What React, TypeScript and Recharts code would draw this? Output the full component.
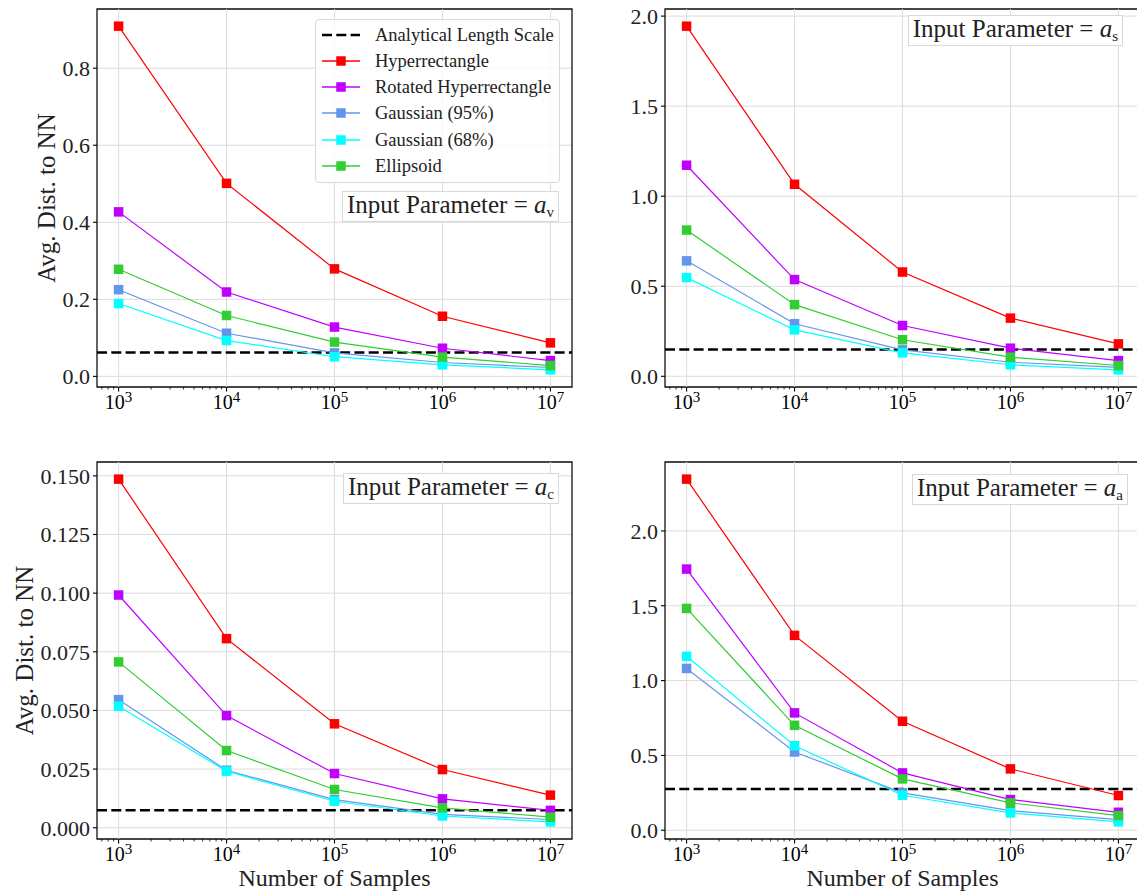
import { LineChart, Line, XAxis, YAxis, CartesianGrid, ReferenceLine, ReferenceArea, Legend, Label } from 'recharts';

const FONT = '"Liberation Serif", "Times New Roman", serif';

// number of samples (x) and tick labels
const samples = [1e3, 1e4, 1e5, 1e6, 1e7];
const majorTicks = [1e3, 1e4, 1e5, 1e6, 1e7];
const minorMantissas = [2, 3, 4, 5, 6, 7, 8, 9];

const seriesKeys = ['hyper', 'rotated', 'g95', 'g68', 'ellipsoid'];
const seriesNames = ['Hyperrectangle', 'Rotated Hyperrectangle', 'Gaussian (95%)', 'Gaussian (68%)', 'Ellipsoid'];
const seriesColors = ['#ff0000', '#bf00ff', '#6495ed', '#00ffff', '#32cd32'];
const refName = 'Analytical Length Scale';

// a_v
const avHyper = [0.909, 0.501, 0.279, 0.156, 0.087];
const avRotated = [0.427, 0.219, 0.128, 0.073, 0.041];
const avG95 = [0.225, 0.112, 0.061, 0.036, 0.023];
const avG68 = [0.189, 0.093, 0.051, 0.030, 0.017];
const avEllipsoid = [0.278, 0.158, 0.089, 0.050, 0.028];
const avRef = 0.062;
const avTicks = [0, 0.2, 0.4, 0.6, 0.8];

// a_s
const asHyper = [1.944, 1.066, 0.579, 0.323, 0.180];
const asRotated = [1.172, 0.537, 0.282, 0.156, 0.087];
const asG95 = [0.641, 0.292, 0.147, 0.078, 0.050];
const asG68 = [0.548, 0.258, 0.130, 0.064, 0.036];
const asEllipsoid = [0.812, 0.398, 0.203, 0.106, 0.060];
const asRef = 0.149;
const asTicks = [0, 0.5, 1.0, 1.5, 2.0];

// a_c
const acHyper = [0.1486, 0.0806, 0.0443, 0.0248, 0.0139];
const acRotated = [0.0992, 0.0478, 0.0231, 0.0123, 0.0074];
const acG95 = [0.0546, 0.0245, 0.0120, 0.0057, 0.0035];
const acG68 = [0.0518, 0.0241, 0.0113, 0.0050, 0.0025];
const acEllipsoid = [0.0707, 0.0329, 0.0163, 0.0085, 0.0045];
const acRef = 0.0075;
const acTicks = [0, 0.025, 0.05, 0.075, 0.1, 0.125, 0.15];

// a_a
const aaHyper = [2.346, 1.302, 0.728, 0.410, 0.232];
const aaRotated = [1.745, 0.784, 0.383, 0.205, 0.120];
const aaG95 = [1.081, 0.523, 0.250, 0.131, 0.071];
const aaG68 = [1.162, 0.565, 0.234, 0.116, 0.056];
const aaEllipsoid = [1.482, 0.701, 0.343, 0.183, 0.098];
const aaRef = 0.276;
const aaTicks = [0, 0.5, 1.0, 1.5, 2.0];

const buildRows = (cols: number[][]) =>
  samples.map((n, i) => {
    const row: any = { n };
    seriesKeys.forEach((k, j) => (row[k] = cols[j][i]));
    return row;
  });

// matplotlib-style 5% margins
const padDomain = (cols: number[][]): [number, number] => {
  const all = cols.flat();
  const lo = Math.min(...all);
  const hi = Math.max(...all);
  const m = (hi - lo) * 0.05;
  return [lo - m, hi + m];
};
const xLogLo = Math.log10(samples[0]);
const xLogHi = Math.log10(samples[samples.length - 1]);
const xPad = (xLogHi - xLogLo) * 0.05;
const xDomain: [number, number] = [Math.pow(10, xLogLo - xPad), Math.pow(10, xLogHi + xPad)];

const minorTicks: number[] = [];
[100, 1e3, 1e4, 1e5, 1e6, 1e7].forEach((d) =>
  minorMantissas.forEach((m) => {
    const v = m * d;
    if (v > xDomain[0] && v < xDomain[1]) minorTicks.push(v);
  })
);
const allXTicks = [...minorTicks, ...majorTicks].sort((a, b) => a - b);

const panels = [
  { cols: [avHyper, avRotated, avG95, avG68, avEllipsoid], ref: avRef, ticks: avTicks, dec: 1, sub: 'v' },
  { cols: [asHyper, asRotated, asG95, asG68, asEllipsoid], ref: asRef, ticks: asTicks, dec: 1, sub: 's' },
  { cols: [acHyper, acRotated, acG95, acG68, acEllipsoid], ref: acRef, ticks: acTicks, dec: 3, sub: 'c' },
  { cols: [aaHyper, aaRotated, aaG95, aaG68, aaEllipsoid], ref: aaRef, ticks: aaTicks, dec: 1, sub: 'a' },
];

// placement of each panel on the page
const layout = [
  { left: 0, top: 0, w: 580, h: 440, mTop: 9, mRight: 8, yW: 97, xH: 53, yLabelX: 46.5, xLabel: false, legend: true, boxRight: 578, boxTop: 191 },
  { left: 580, top: 0, w: 580, h: 440, mTop: 9, mRight: 20, yW: 85, xH: 53, yLabelX: 0, xLabel: false, legend: false, boxRight: 14, boxTop: 15 },
  { left: 0, top: 440, w: 580, h: 454, mTop: 22, mRight: 8, yW: 97, xH: 55, yLabelX: 24, xLabel: true, legend: false, boxRight: 578, boxTop: 473 },
  { left: 580, top: 440, w: 580, h: 454, mTop: 22, mRight: 20, yW: 85, xH: 55, yLabelX: 0, xLabel: true, legend: false, boxRight: 9, boxTop: 474 },
];

function XTick(props: any) {
  const { x, y, payload } = props;
  const e = Math.log10(payload.value);
  const major = Math.abs(e - Math.round(e)) < 1e-6;
  if (!major) return <line x1={x} x2={x} y1={y} y2={y + 2.5} stroke="#000" strokeWidth={0.8} />;
  return (
    <g>
      <line x1={x} x2={x} y1={y} y2={y + 4.5} stroke="#000" strokeWidth={1.1} />
      <text x={x} y={y + 22} textAnchor="middle" fontFamily={FONT} fontSize={20} fill="#000">
        10<tspan dy={-7} fontSize={15}>{Math.round(e)}</tspan>
      </text>
    </g>
  );
}

function LegendBox() {
  const rows = [{ name: refName, color: '#000', dashed: true }, ...seriesNames.map((n, i) => ({ name: n, color: seriesColors[i], dashed: false }))];
  return (
    <div style={{ width: 245, height: 164, boxSizing: 'border-box', border: '1px solid #d8d8d8', borderRadius: 4, background: 'rgba(255,255,255,0.8)', position: 'relative', fontFamily: FONT }}>
      {rows.map((r, i) => (
        <div key={r.name} style={{ position: 'absolute', left: 6, top: 14.5 + i * 26.3 - 12, height: 24, display: 'flex', alignItems: 'center', whiteSpace: 'nowrap' }}>
          <svg width={38} height={24} style={{ display: 'block' }}>
            {r.dashed ? (
              <line x1={0} x2={38} y1={12} y2={12} stroke="#000" strokeWidth={2.5} strokeDasharray="10 4.3" />
            ) : (
              <g>
                <line x1={0} x2={38} y1={12} y2={12} stroke={r.color} strokeWidth={1.5} />
                <rect x={14.25} y={7.25} width={9.5} height={9.5} fill={r.color} />
              </g>
            )}
          </svg>
          <span style={{ marginLeft: 15, fontSize: 18.5, color: '#222', lineHeight: '24px' }}>{r.name}</span>
        </div>
      ))}
    </div>
  );
}

function Panel({ p, L }: { p: any; L: any }) {
  const rows = buildRows(p.cols);
  const yDomain = padDomain(p.cols);
  return (
    <div style={{ position: 'absolute', left: L.left, top: L.top, width: L.w, height: L.h }}>
      <LineChart width={L.w} height={L.h} data={rows} margin={{ top: L.mTop, right: L.mRight, bottom: 0, left: 0 }} style={{ fontFamily: FONT }}>
        <CartesianGrid stroke="#dcdcdc" strokeWidth={1} vertical={false} />
        <XAxis
          dataKey="n"
          type="number"
          scale="log"
          domain={xDomain}
          allowDataOverflow
          ticks={allXTicks}
          interval={0}
          tick={<XTick />}
          tickLine={false}
          tickSize={0}
          tickMargin={0}
          axisLine={false}
          height={L.xH}
        >
          {L.xLabel && (
            <Label
              content={(lp: any) => {
                const vb = lp.viewBox || {};
                return (
                  <text x={vb.x + vb.width / 2} y={vb.y + 47} textAnchor="middle" fontFamily={FONT} fontSize={24} fill="#222">
                    Number of Samples
                  </text>
                );
              }}
            />
          )}
        </XAxis>
        <YAxis
          type="number"
          domain={yDomain}
          allowDataOverflow
          ticks={p.ticks}
          interval={0}
          tickFormatter={(v: number) => v.toFixed(p.dec)}
          tick={{ fontFamily: FONT, fontSize: 22, fill: '#222' }}
          tickLine={{ stroke: '#000', strokeWidth: 1.1 }}
          tickSize={4}
          tickMargin={3}
          axisLine={false}
          width={L.yW}
        >
          {L.yLabelX > 0 && (
            <Label
              content={(lp: any) => {
                const vb = lp.viewBox || {};
                const cx = vb.x + L.yLabelX;
                const cy = vb.y + vb.height / 2;
                return (
                  <text x={cx} y={cy} transform={`rotate(-90 ${cx} ${cy})`} textAnchor="middle" dominantBaseline="central" fontFamily={FONT} fontSize={25} fill="#222">
                    Avg. Dist. to NN
                  </text>
                );
              }}
            />
          )}
        </YAxis>
        {majorTicks.map((t) => (
          <ReferenceLine key={'g' + t} x={t} stroke="#dcdcdc" strokeWidth={1} />
        ))}
        <ReferenceLine y={p.ref} stroke="#000" strokeWidth={2.5} strokeDasharray="10 4.3" />
        {seriesKeys.map((k, j) => (
          <Line
            key={k}
            dataKey={k}
            name={seriesNames[j]}
            stroke={seriesColors[j]}
            strokeWidth={1.2}
            isAnimationActive={false}
            activeDot={false}
            dot={(dp: any) => (
              <rect key={`${k}-${dp.index}`} x={dp.cx - 4.75} y={dp.cy - 4.75} width={9.5} height={9.5} fill={seriesColors[j]} />
            )}
          />
        ))}
        <ReferenceArea x1={xDomain[0]} x2={xDomain[1]} y1={yDomain[0]} y2={yDomain[1]} fill="none" stroke="#111" strokeWidth={1.3} ifOverflow="visible" />
        {L.legend && (
          <Legend
            layout="vertical"
            align="center"
            verticalAlign="middle"
            wrapperStyle={{ left: 315, top: 19, width: 245, height: 164 }}
            content={() => <LegendBox />}
          />
        )}
      </LineChart>
    </div>
  );
}

export default function App() {
  return (
    <div style={{ position: 'absolute', left: 0, top: 0, width: 1137, height: 894, overflow: 'hidden', background: '#fff', fontFamily: FONT }}>
      {panels.map((p, i) => (
        <Panel key={i} p={p} L={layout[i]} />
      ))}
      {panels.map((p, i) => (
        <div
          key={'box' + i}
          style={{
            position: 'absolute',
            right: layout[i].boxRight,
            top: layout[i].boxTop,
            border: '1px solid #d8d8d8',
            background: '#fff',
            fontSize: 25,
            lineHeight: '26px',
            padding: '0 4px',
            color: '#222',
            whiteSpace: 'nowrap',
          }}
        >
          Input Parameter = <i>a</i>
          <span style={{ fontSize: 15, position: 'relative', top: 4 }}>{p.sub}</span>
        </div>
      ))}
    </div>
  );
}
